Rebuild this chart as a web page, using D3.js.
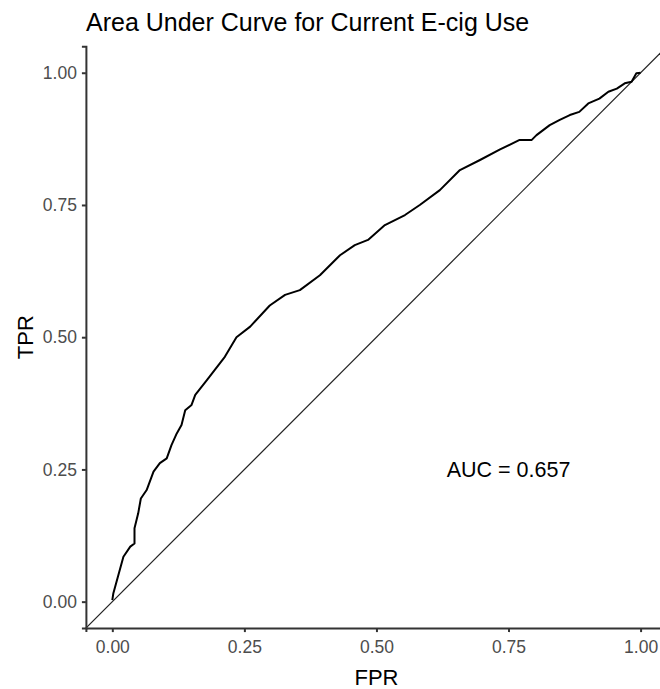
<!DOCTYPE html>
<html>
<head>
<meta charset="utf-8">
<script src="https://cdn.jsdelivr.net/npm/d3@7"></script>
<style>
  html, body { margin: 0; padding: 0; background: #fff; }
  svg { display: block; font-family: "Liberation Sans", Arial, sans-serif; }
</style>
</head>
<body>
<svg id="chart" width="660" height="689"></svg>
<script>
// ROC curve points
const fpr = [0, 0.002, 0.021, 0.034, 0.042, 0.042, 0.049, 0.054, 0.065, 0.078, 0.090, 0.103, 0.112, 0.122, 0.131, 0.138, 0.150, 0.157, 0.179, 0.213, 0.235, 0.261, 0.298, 0.327, 0.355, 0.393, 0.431, 0.459, 0.484, 0.516, 0.554, 0.582, 0.620, 0.658, 0.696, 0.734, 0.771, 0.794, 0.803, 0.828, 0.847, 0.866, 0.884, 0.901, 0.922, 0.939, 0.955, 0.970, 0.983, 0.992, 1.0];
const tpr = [0.003, 0.016, 0.085, 0.104, 0.110, 0.139, 0.167, 0.195, 0.211, 0.246, 0.262, 0.271, 0.296, 0.318, 0.334, 0.362, 0.372, 0.391, 0.419, 0.463, 0.500, 0.520, 0.560, 0.580, 0.589, 0.617, 0.655, 0.674, 0.684, 0.712, 0.731, 0.750, 0.778, 0.816, 0.835, 0.855, 0.873, 0.873, 0.882, 0.901, 0.911, 0.920, 0.926, 0.942, 0.951, 0.964, 0.970, 0.980, 0.983, 0.999, 1.0];
const xTicks = [0, 0.25, 0.5, 0.75, 1];
const yTicks = [0, 0.25, 0.5, 0.75, 1];
const titleText = "Area Under Curve for Current E-cig Use";
const xTitle = "FPR";
const yTitle = "TPR";
const aucLabel = "AUC = 0.657";
const aucPos = [0.75, 0.25];

const svg = d3.select("#chart");
const pL = 85.9, pR = 667, pT = 46.3, pB = 628.1;
const x = d3.scaleLinear().domain([-0.05, 1.05]).range([pL, pR]);
const y = d3.scaleLinear().domain([-0.05, 1.05]).range([pB, pT]);

svg.append("defs").append("clipPath").attr("id", "panel")
  .append("rect").attr("x", pL).attr("y", pT).attr("width", pR - pL).attr("height", pB - pT);

const g = svg.append("g").attr("clip-path", "url(#panel)");

// diagonal reference line
g.append("line")
  .attr("x1", x(-0.05)).attr("y1", y(-0.05))
  .attr("x2", x(1.05)).attr("y2", y(1.05))
  .attr("stroke", "#222").attr("stroke-width", 1.2);

const pts = fpr.map((d, i) => [d, tpr[i]]);
g.append("path").datum(pts)
  .attr("fill", "none").attr("stroke", "#000").attr("stroke-width", 2)
  .attr("stroke-linejoin", "round")
  .attr("d", d3.line().x(d => x(d[0])).y(d => y(d[1])));

// axes
const fmt = d3.format(".2f");
const ax = svg.append("g").attr("transform", `translate(0,${pB})`)
  .call(d3.axisBottom(x).tickValues(xTicks).tickFormat(fmt).tickSizeOuter(0).tickSize(4).tickPadding(5));
const ay = svg.append("g").attr("transform", `translate(${pL},0)`)
  .call(d3.axisLeft(y).tickValues(yTicks).tickFormat(fmt).tickSizeOuter(0).tickSize(4).tickPadding(5));
[ax, ay].forEach(a => {
  a.select(".domain").attr("stroke", "#333").attr("stroke-width", 2);
  a.selectAll(".tick line").attr("stroke", "#333").attr("stroke-width", 2);
  a.selectAll(".tick text").attr("fill", "#4d4d4d").style("font-size", "17.5px").style("font-family", "Liberation Sans, Arial, sans-serif");
});
ax.selectAll(".tick text").attr("dy", "0.9em");

// titles
svg.append("text").attr("x", 86).attr("y", 31)
  .style("font-size", "25px").attr("fill", "#000").text(titleText);
svg.append("text").attr("x", (pL + pR) / 2).attr("y", 685)
  .attr("text-anchor", "middle").style("font-size", "22px").attr("fill", "#000").text(xTitle);
svg.append("text").attr("transform", `translate(33,${(pT + pB) / 2}) rotate(-90)`)
  .attr("text-anchor", "middle").style("font-size", "22px").attr("fill", "#000").text(yTitle);

// annotation
svg.append("text").attr("x", x(aucPos[0])).attr("y", y(aucPos[1]))
  .attr("dy", "0.36em").attr("text-anchor", "middle")
  .style("font-size", "21.5px").attr("fill", "#000").text(aucLabel);
</script>
</body>
</html>
